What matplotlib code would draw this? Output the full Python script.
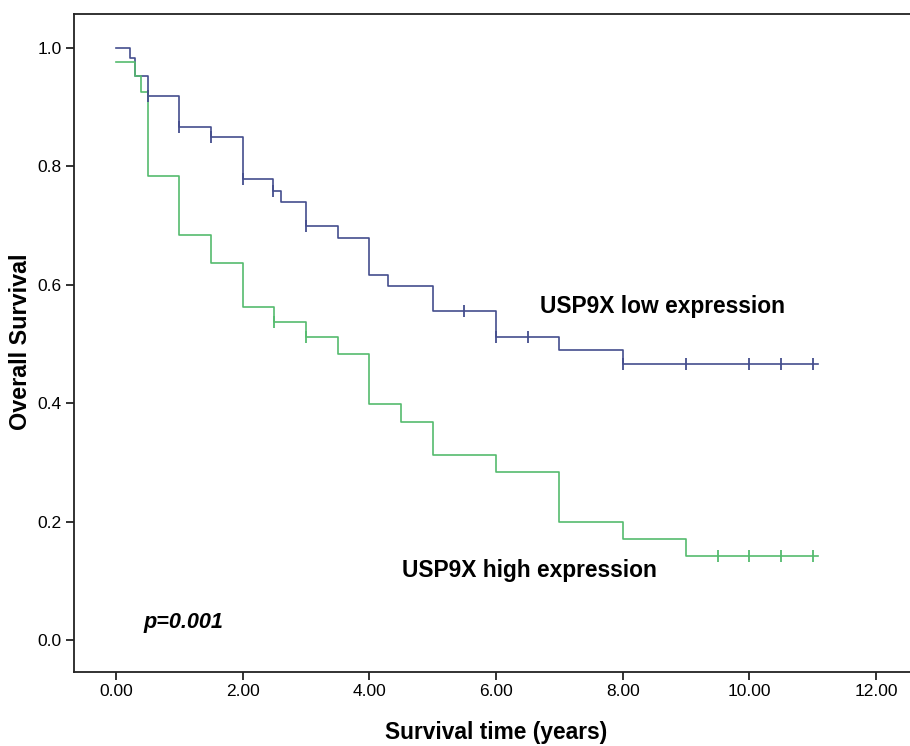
import numpy as np
import matplotlib
matplotlib.use('Agg')
from matplotlib import pyplot as plt

plt.rcParams['font.family'] = ['Liberation Sans', 'DejaVu Sans']

# USP9X low expression (blue)
low_t = [0, 0.22, 0.3, 0.5, 1.0, 1.5, 2.0, 2.48, 2.6, 3.0, 3.5, 4.0, 4.3, 5.0, 6.0, 7.0, 8.0, 11.08]
low_s = [1.0, 0.982, 0.953, 0.919, 0.867, 0.850, 0.779, 0.758, 0.740, 0.699, 0.679, 0.617, 0.597, 0.556, 0.512, 0.490, 0.466, 0.466]
low_cens = [0.5, 1.0, 1.5, 2.0, 2.48, 3.0, 5.5, 6.0, 6.5, 8.0, 9.0, 10.0, 10.5, 11.0]

# USP9X high expression (green)
high_t = [0, 0.3, 0.4, 0.5, 1.0, 1.5, 2.0, 2.5, 3.0, 3.5, 4.0, 4.5, 5.0, 6.0, 7.0, 8.0, 9.0, 11.08]
high_s = [0.976, 0.952, 0.926, 0.783, 0.684, 0.636, 0.562, 0.537, 0.512, 0.483, 0.399, 0.368, 0.312, 0.284, 0.199, 0.171, 0.142, 0.142]
high_cens = [2.5, 3.0, 9.5, 10.0, 10.5, 11.0]

xticks = [0, 2, 4, 6, 8, 10, 12]
yticks = [0.0, 0.2, 0.4, 0.6, 0.8, 1.0]

blue = '#444e8e'
green = '#55bb6e'


def surv_at(t, s, x):
    idx = np.searchsorted(t, x, side='right') - 1
    return np.asarray(s)[idx]


fig = plt.figure(figsize=(9.1, 7.46), dpi=100)
ax = fig.add_axes([0.0813, 0.0992, 0.921, 0.882])

ax.step(low_t, low_s, where='post', color=blue, lw=1.2)
ax.step(high_t, high_s, where='post', color=green, lw=1.2)
ax.plot(low_cens, surv_at(low_t, low_s, low_cens), ls='none', marker='|',
        ms=8, mew=1.3, color=blue)
ax.plot(high_cens, surv_at(high_t, high_s, high_cens), ls='none', marker='|',
        ms=8, mew=1.3, color=green)

ax.set_xlim(-0.663, 12.57)
ax.set_ylim(-0.054, 1.057)
ax.set_xticks(xticks)
ax.set_xticklabels(['%.2f' % v for v in xticks])
ax.set_yticks(yticks)
ax.set_yticklabels(['%.1f' % v for v in yticks])
ax.tick_params(length=6, width=1.3, labelsize=12.5, pad=3, color='#222222')
for sp in ax.spines.values():
    sp.set_linewidth(1.3)
    sp.set_color('#222222')

ax.text(6.70, 0.5625, 'USP9X low expression', fontsize=16.4, fontweight='bold',
        va='center', ha='left')
ax.text(4.52, 0.1166, 'USP9X high expression', fontsize=16.4, fontweight='bold',
        va='center', ha='left')
ax.text(0.44, 0.029, 'p=0.001', fontsize=15.6, fontweight='bold', style='italic',
        va='center', ha='left')

fig.text(21 / 910, 1 - 342 / 746, 'Overall Survival', rotation=90, fontsize=16.8,
         fontweight='bold', va='center', ha='center')
fig.text(496 / 910, 1 - 733 / 746, 'Survival time (years)', fontsize=16.4,
         fontweight='bold', va='center', ha='center')

fig.savefig('out.png', dpi=100)
